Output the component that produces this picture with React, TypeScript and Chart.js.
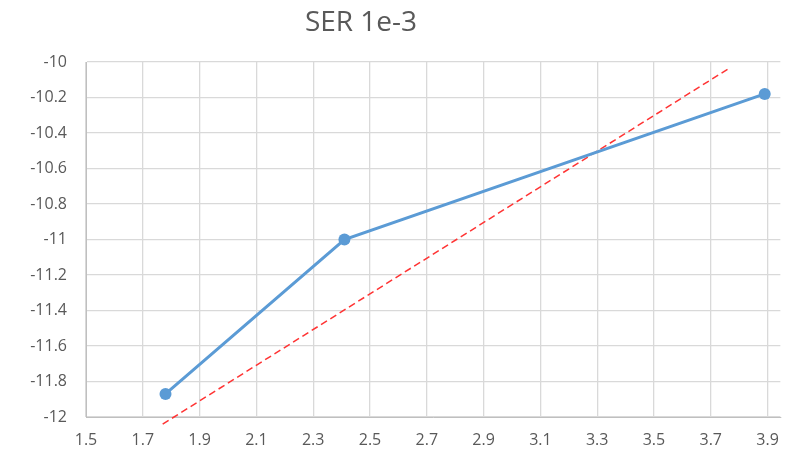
import React, { useEffect, useRef } from "react";
import { Chart, registerables } from "chart.js";

Chart.register(...registerables);

const titleText = "SER 1e-3";
const serX = [1.78, 2.41, 3.89];
const serY = [-11.87, -11.0, -10.18];
const trendX = [1.77, 3.77];
const trendY = [-12.04, -10.03];
const xMin = 1.5;
const xMax = 3.945;
const xTicks = [1.5, 1.7, 1.9, 2.1, 2.3, 2.5, 2.7, 2.9, 3.1, 3.3, 3.5, 3.7, 3.9];
const yMin = -12;
const yMax = -10;
const yStep = 0.2;

const TEXT = "#595959";
const FONT = "'Open Sans', 'Noto Sans', sans-serif";

export default function App() {
  const ref = useRef<HTMLCanvasElement | null>(null);

  useEffect(() => {
    document.body.style.margin = "0";
    const ctx = ref.current!;
    const titlePlugin = {
      id: "customTitle",
      afterDraw(chart: any) {
        const c = chart.ctx;
        c.save();
        c.fillStyle = TEXT;
        c.font = `28px ${FONT}`;
        c.textAlign = "center";
        c.textBaseline = "middle";
        c.fillText(titleText, 361, 23);
        c.restore();
      },
    };
    const chart = new Chart(ctx, {
      type: "scatter",
      data: {
        datasets: [
          {
            label: "SER",
            data: serX.map((x, i) => ({ x, y: serY[i] })),
            showLine: true,
            borderColor: "#5b9bd5",
            backgroundColor: "#5b9bd5",
            borderWidth: 3,
            pointRadius: 6,
            pointHoverRadius: 6,
            pointBorderWidth: 0,
            order: 1,
          },
          {
            label: "trend",
            data: trendX.map((x, i) => ({ x, y: trendY[i] })),
            showLine: true,
            borderColor: "#ff3333",
            backgroundColor: "#ff3333",
            borderWidth: 1.5,
            borderDash: [7, 4],
            pointRadius: 0,
            clip: false as any,
            order: 2,
          },
        ],
      },
      options: {
        animation: false,
        responsive: false,
        maintainAspectRatio: false,
        layout: { padding: { left: 0, right: 10, top: 62, bottom: 0 } },
        plugins: {
          legend: { display: false },
          title: { display: false },
          tooltip: { enabled: false },
        },
        scales: {
          x: {
            type: "linear",
            min: xMin,
            max: xMax,
            afterBuildTicks: (s: any) => {
              s.ticks = xTicks.map((v) => ({ value: v }));
            },
            afterFit: (s: any) => {
              s.height = 37;
            },
            ticks: {
              color: TEXT,
              font: { family: FONT, size: 16 },
              padding: 14,
              maxRotation: 0,
              autoSkip: false,
              callback: (v: any) => Number(v).toFixed(1),
            },
            grid: { color: "#d9d9d9", lineWidth: 1.3, drawTicks: false },
            border: { display: true, color: "#bfbfbf", width: 1 },
          },
          y: {
            type: "linear",
            min: yMin,
            max: yMax,
            afterFit: (s: any) => {
              s.width = 86;
            },
            ticks: {
              stepSize: yStep,
              color: TEXT,
              font: { family: FONT, size: 16 },
              padding: 19,
              autoSkip: false,
              callback: (v: any) => {
                const n = Math.round(Number(v) * 10) / 10;
                return Number.isInteger(n) ? String(n) : n.toFixed(1);
              },
            },
            grid: { color: "#d9d9d9", lineWidth: 1.3, drawTicks: false },
            border: { display: true, color: "#bfbfbf", width: 1 },
          },
        },
      },
      plugins: [titlePlugin],
    } as any);
    return () => chart.destroy();
  }, []);

  return (
    <div style={{ position: "relative", width: 793, height: 454, background: "#fff" }}>
      <canvas ref={ref} width={793} height={454} style={{ display: "block" }} />
    </div>
  );
}
